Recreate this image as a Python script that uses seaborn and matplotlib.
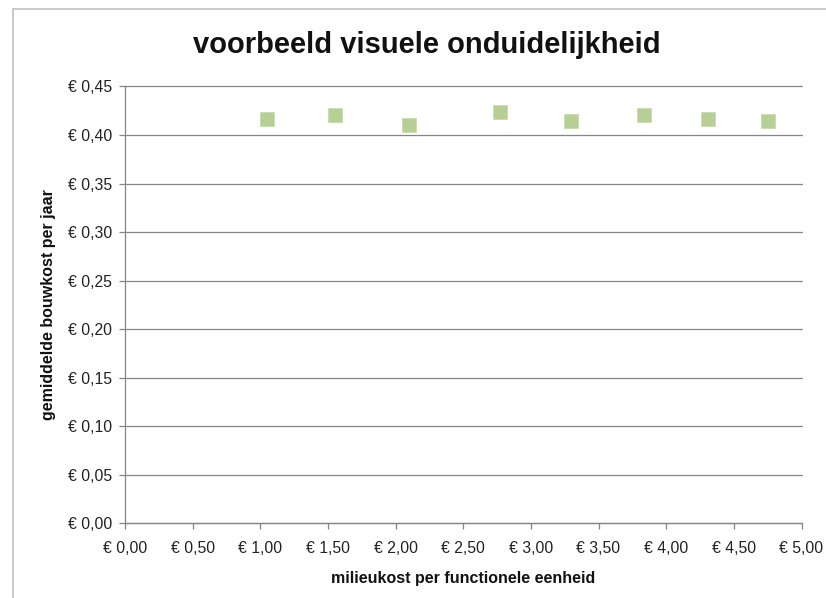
import matplotlib
matplotlib.use("Agg")
import matplotlib.pyplot as plt
from matplotlib.lines import Line2D
from matplotlib.ticker import FuncFormatter, MultipleLocator
import seaborn as sns
import pandas as pd

# milieukost per functionele eenheid (x) and gemiddelde bouwkost per jaar (y)
milieukost = [1.05, 1.55, 2.10, 2.775, 3.30, 3.835, 4.31, 4.75]
bouwkost = [0.417, 0.421, 0.410, 0.424, 0.414, 0.421, 0.417, 0.414]

df = pd.DataFrame({"milieukost": milieukost, "bouwkost": bouwkost})

sns.set_style("white")
plt.rcParams["font.family"] = ["Liberation Sans", "DejaVu Sans"]

W, H = 826, 598
fig = plt.figure(figsize=(W / 100, H / 100), dpi=100)
ax = fig.add_axes([125 / W, 1 - 523.3 / H, 676.5 / W, 436.8 / H])

grey = "#868686"
sns.scatterplot(data=df, x="milieukost", y="bouwkost", ax=ax, marker="s",
                s=105, color="#b7ce95", edgecolor="#c9dcae", linewidth=0.6,
                zorder=3, legend=False)

ax.set_xlim(0, 5)
ax.set_ylim(0, 0.45)
ax.xaxis.set_major_locator(MultipleLocator(0.5))
ax.yaxis.set_major_locator(MultipleLocator(0.05))

def euro(v, _):
    return "€ " + f"{v:.2f}".replace(".", ",")

ax.xaxis.set_major_formatter(FuncFormatter(euro))
ax.yaxis.set_major_formatter(FuncFormatter(euro))

ax.grid(axis="y", color=grey, linewidth=0.9)
ax.grid(axis="x", visible=False)
for gl in ax.get_ygridlines():
    gl.set_clip_on(False)
for side in ("top", "right"):
    ax.spines[side].set_visible(False)
for side in ("left", "bottom"):
    ax.spines[side].set_color(grey)
    ax.spines[side].set_linewidth(0.9)

ax.tick_params(axis="both", which="major", length=4.5, width=0.9, color=grey,
               labelsize=11.3, labelcolor="#222222")
ax.tick_params(axis="x", bottom=True, pad=8)
ax.tick_params(axis="y", left=True, pad=5)

ax.set_xlabel("milieukost per functionele eenheid", fontsize=11.5,
              fontweight="bold", labelpad=11, color="#111111")
ax.set_ylabel("gemiddelde bouwkost per jaar", fontsize=11.5,
              fontweight="bold", labelpad=8, color="#111111")

fig.text(427 / W, 1 - 45 / H, "voorbeeld visuele onduidelijkheid",
         ha="center", va="center", fontsize=21, fontweight="bold",
         color="#111111")

# chart area outline
frame = "#c0c0c0"
fig.add_artist(Line2D([13 / W, 1], [1 - 9 / H, 1 - 9 / H], color=frame,
                      linewidth=1.2, transform=fig.transFigure))
fig.add_artist(Line2D([13 / W, 13 / W], [0, 1 - 9 / H], color=frame,
                      linewidth=1.2, transform=fig.transFigure))

fig.savefig("out.png", dpi=100)
